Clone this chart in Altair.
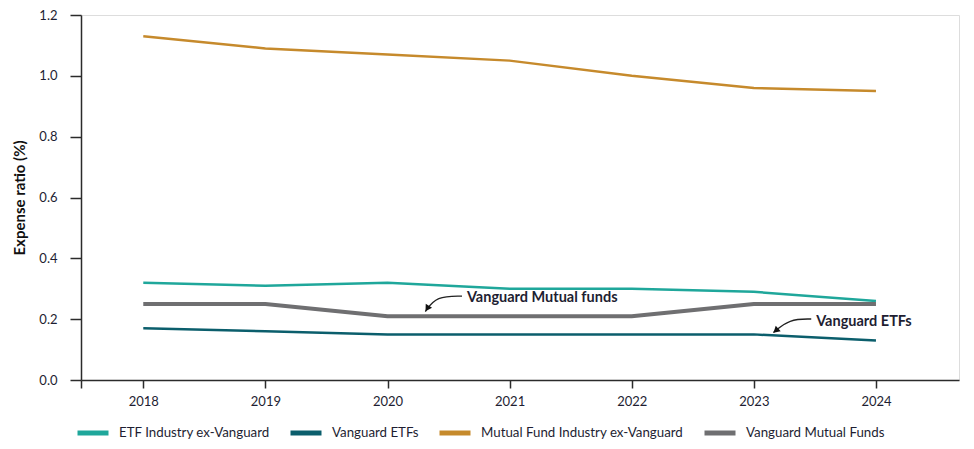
import altair as alt
import pandas as pd

years = [2018, 2019, 2020, 2021, 2022, 2023, 2024]
series_names = ["ETF Industry ex-Vanguard", "Vanguard ETFs",
                "Mutual Fund Industry ex-Vanguard", "Vanguard Mutual Funds"]
etf_ex_vanguard = [0.32, 0.31, 0.32, 0.30, 0.30, 0.29, 0.26]
vanguard_etfs = [0.17, 0.16, 0.15, 0.15, 0.15, 0.15, 0.13]
mf_ex_vanguard = [1.13, 1.09, 1.07, 1.05, 1.00, 0.96, 0.95]
vanguard_mf = [0.25, 0.25, 0.21, 0.21, 0.21, 0.25, 0.25]
colors = ["#1fa79b", "#0b5e6c", "#c68a2c", "#6f6f71"]
widths = [2.5, 2.5, 2.5, 4]

y_ticks = [0.0, 0.2, 0.4, 0.6, 0.8, 1.0, 1.2]
x_domain = [2017.49, 2024.68]

# annotations (data coordinates)
ann_text = ["Vanguard Mutual funds", "Vanguard ETFs"]
ann_x = [2020.65, 2023.51]
ann_y = [0.269, 0.191]
arrow_id = ["a", "a", "a", "b", "b", "b"]
arrow_x = [2020.61, 2020.40, 2020.31, 2023.47, 2023.29, 2023.16]
arrow_y = [0.276, 0.276, 0.225, 0.2005, 0.2005, 0.156]
head_x = [2020.325, 2023.18]
head_y = [0.235, 0.162]
head_angle = [212, 228]

FONT = "Lato"
TEXT_COLOR = "#1e1e32"

all_vals = [etf_ex_vanguard, vanguard_etfs, mf_ex_vanguard, vanguard_mf]
rows = []
for name, vals, w in zip(series_names, all_vals, widths):
    for yr, v in zip(years, vals):
        rows.append({"year": yr, "value": v, "series": name, "w": w})
df = pd.DataFrame(rows)

xscale = alt.Scale(domain=x_domain, nice=False, zero=False)
yscale = alt.Scale(domain=[0, 1.2], nice=False)

lines = alt.Chart(df).mark_line().encode(
    x=alt.X("year:Q", scale=xscale, title=None,
            axis=alt.Axis(values=[x_domain[0]] + years,
                          labelExpr="datum.value < 2017.9 ? '' : format(datum.value, 'd')",
                          tickSize=8, labelPadding=7, grid=False,
                          domainColor="#2b2b2b", tickColor="#2b2b2b",
                          domainWidth=1.5, tickWidth=1.5,
                          labelFont=FONT, labelFontSize=13, labelColor=TEXT_COLOR)),
    y=alt.Y("value:Q", scale=yscale, title="Expense ratio (%)",
            axis=alt.Axis(values=y_ticks, format=".1f", tickSize=11, labelPadding=13,
                          grid=False, domainColor="#2b2b2b", tickColor="#2b2b2b",
                          domainWidth=1.5, tickWidth=1.5,
                          labelFont=FONT, labelFontSize=13, labelColor=TEXT_COLOR,
                          titleFont=FONT, titleFontSize=15, titleFontWeight="bold",
                          titleColor="#111111", titlePadding=11)),
    color=alt.Color("series:N",
                    scale=alt.Scale(domain=series_names, range=colors),
                    sort=series_names,
                    legend=alt.Legend(title=None, orient="none", direction="horizontal",
                                      legendX=-6, legendY=400, padding=0,
                                      symbolType="stroke", symbolSize=961,
                                      symbolStrokeWidth=5, labelOffset=8,
                                      columnPadding=10, labelFont=FONT, labelLimit=400,
                                      labelFontSize=13.3, labelColor=TEXT_COLOR)),
    strokeWidth=alt.StrokeWidth("w:Q", scale=None, legend=None),
    order=alt.Order("year:Q"),
)

ann_df = pd.DataFrame({"text": ann_text, "x": ann_x, "y": ann_y})
texts = alt.Chart(ann_df).mark_text(
    align="left", baseline="middle", font=FONT, fontSize=14.5,
    fontWeight="bold", color=TEXT_COLOR
).encode(x=alt.X("x:Q", scale=xscale), y=alt.Y("y:Q", scale=yscale), text="text:N")

arrow_df = pd.DataFrame({"id": arrow_id, "x": arrow_x, "y": arrow_y,
                         "o": list(range(len(arrow_x)))})
arrows = alt.Chart(arrow_df).mark_line(
    interpolate="basis", color="#222222", strokeWidth=1.3
).encode(x=alt.X("x:Q", scale=xscale), y=alt.Y("y:Q", scale=yscale),
         detail="id:N", order="o:Q")

head_df = pd.DataFrame({"x": head_x, "y": head_y, "a": head_angle})
heads = alt.Chart(head_df).mark_point(
    shape="triangle-up", filled=True, color="#111111", size=55, opacity=1
).encode(x=alt.X("x:Q", scale=xscale), y=alt.Y("y:Q", scale=yscale),
         angle=alt.Angle("a:Q", scale=None))

chart = alt.layer(lines, arrows, heads, texts).properties(
    width=878, height=365,
    autosize=alt.AutoSizeParams(type="none"),
    padding={"left": 73, "top": 7, "right": 7, "bottom": 60},
).configure_view(stroke=None).configure(background="white")

chart.save("out.html", embed_options={"renderer": "svg", "actions": False})
